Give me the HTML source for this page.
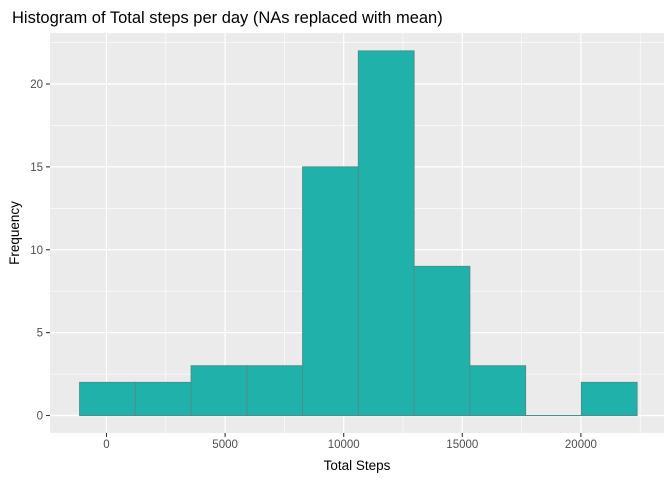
<!DOCTYPE html>
<html><head><meta charset="utf-8"><style>
body{margin:0;background:#fff;}
text{font-family:"Liberation Sans",sans-serif;}
</style></head><body>
<svg id="chart" width="672" height="480" xmlns="http://www.w3.org/2000/svg">
<rect x="0" y="0" width="672" height="480" fill="#fff"/>
<text x="12" y="23" font-size="16.5" fill="#000">Histogram of Total steps per day (NAs replaced with mean)</text>
<rect x="50" y="33" width="614" height="400" fill="#EBEBEB"/>
<g id="grid"></g>
<g id="bars"></g>
<g id="axes"></g>
<text x="357" y="470" font-size="13.5" text-anchor="middle" fill="#000">Total Steps</text>
<text x="0" y="0" font-size="13.5" text-anchor="middle" fill="#000" transform="translate(19,233) rotate(-90)">Frequency</text>
</svg>
<script>
const binStart = -1134;
const binWidth = 2350.3;
const counts = [2,2,3,3,15,22,9,3,0,2];
const xTicks = [0,5000,10000,15000,20000];
const xMinor = [-2500,2500,7500,12500,17500,22500];
const yTicks = [0,5,10,15,20];
const yMinor = [2.5,7.5,12.5,17.5,22.5];
const L=50,R=664,T=33,B=433;
const X = v => 106.5 + v*118.6/5000;
const Y = v => 415.5 - v*16.575;
const NS="http://www.w3.org/2000/svg";
function mk(tag, parent, attrs){const e=document.createElementNS(NS,tag);for(const k in attrs)e.setAttribute(k,attrs[k]);parent.appendChild(e);return e;}
const grid=document.getElementById('grid'), bars=document.getElementById('bars'), axes=document.getElementById('axes');
xMinor.forEach(v=>{const x=X(v); if(x<L||x>R)return; const l=mk('line',grid,{x1:x,x2:x,y1:T,y2:B,stroke:'#fff','stroke-width':0.6});

});
yMinor.forEach(v=>{const y=Y(v); if(y<T||y>B)return; const l=mk('line',grid,{x1:L,x2:R,y1:y,y2:y,stroke:'#fff','stroke-width':0.6});

});
xTicks.forEach(v=>{const x=X(v); const l=mk('line',grid,{x1:x,x2:x,y1:T,y2:B,stroke:'#fff','stroke-width':1.2});


const t=mk('line',axes,{x1:x,x2:x,y1:B,y2:B+4,stroke:'#333','stroke-width':1.1});


const tx=mk('text',axes,{x:x,y:B+15,'font-size':11.5,'text-anchor':'middle',fill:'#4D4D4D'}); tx.textContent=v;

});
yTicks.forEach(v=>{const y=Y(v); const l=mk('line',grid,{x1:L,x2:R,y1:y,y2:y,stroke:'#fff','stroke-width':1.2});


const t=mk('line',axes,{x1:L-4,x2:L,y1:y,y2:y,stroke:'#333','stroke-width':1.1});


const tx=mk('text',axes,{x:L-7,y:y+4,'font-size':11.5,'text-anchor':'end',fill:'#4D4D4D'}); tx.textContent=v;

});
counts.forEach((c,i)=>{const x0=X(binStart+i*binWidth), x1=X(binStart+(i+1)*binWidth);
const y0=Y(0), y1=Y(c);
const r=mk('path',bars,{d:`M${x0},${y0}L${x0},${y1}L${x1},${y1}L${x1},${y0}Z`,fill:'#20B2AA',stroke:'#4A8F8C','stroke-width':1});

});
</script>
</body></html>
